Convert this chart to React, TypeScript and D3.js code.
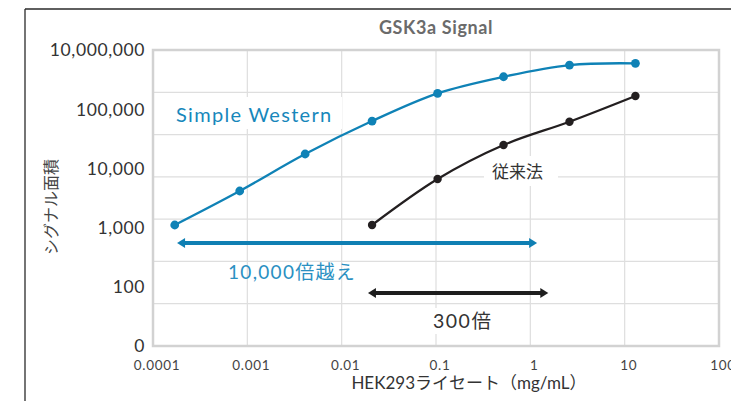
import React from "react";
import * as d3 from "d3";

// ---- data ----
const concSW = [0.00017, 0.00083, 0.0041, 0.021, 0.104, 0.52, 2.6, 13];
const signalSW = [727, 4630, 34700, 209000, 944000, 2330000, 4410000, 4840000];
const concWB = [0.021, 0.104, 0.52, 2.6, 13];
const signalWB = [727, 8890, 56600, 201000, 816000];
const xTickValues = [0.0001, 0.001, 0.01, 0.1, 1, 10, 100];
const xTickLabels = ["0.0001", "0.001", "0.01", "0.1", "1", "10", "100"];
const yGridValues = [1, 10, 100, 1000, 10000, 100000, 1000000, 10000000];
const yTickLabels = ["0", "100", "1,000", "10,000", "100,000", "10,000,000"];
const rangeSW = [0.00018, 1.18];
const rangeSWLevel = 272;
const rangeWB = [0.019, 1.55];
const rangeWBLevel = 17.9;

const W = 731;
const H = 401;
const plot = { left: 153, right: 719, top: 50, bottom: 346 };
const font = "Lato, 'Noto Sans CJK JP', sans-serif";
const blue = "#0f82b6";

export default function App() {
  const x = d3.scaleLog().domain([0.0001, 100]).range([plot.left, plot.right]);
  const y = d3.scaleLog().domain([1, 10000000]).range([plot.bottom, plot.top]);
  const yLab = d3.scalePoint<string>().domain(yTickLabels).range([plot.bottom, plot.top]);

  const line = d3
    .line<[number, number]>()
    .x((d) => x(d[0]))
    .y((d) => y(d[1]))
    .curve(d3.curveCatmullRom.alpha(0.5));

  const sw: [number, number][] = concSW.map((c, i) => [c, signalSW[i]]);
  const wb: [number, number][] = concWB.map((c, i) => [c, signalWB[i]]);

  const arrow = (x1: number, x2: number, yy: number, color: string) => (
    <g>
      <line x1={x1 + 4} x2={x2 - 4} y1={yy} y2={yy} stroke={color} strokeWidth={4} />
      <path d={`M${x1},${yy} L${x1 + 8},${yy - 5} L${x1 + 8},${yy + 5} Z`} fill={color} />
      <path d={`M${x2},${yy} L${x2 - 8},${yy - 5} L${x2 - 8},${yy + 5} Z`} fill={color} />
    </g>
  );

  return (
    <svg
      width={W}
      height={H}
      style={{ position: "absolute", left: 0, top: 0, background: "#fff" }}
      fontFamily={font}
    >
      {/* outer frame */}
      <line x1={25} x2={W} y1={9} y2={9} stroke="#2a2a2a" strokeWidth={1.3} />
      <line x1={25} x2={25} y1={9} y2={H} stroke="#2a2a2a" strokeWidth={1.3} />

      {/* grid */}
      {yGridValues.map((v) => (
        <line key={"gy" + v} x1={plot.left} x2={plot.right} y1={y(v)} y2={y(v)} stroke="#dedede" strokeWidth={1.2} />
      ))}
      {xTickValues.map((v) => (
        <line key={"gx" + v} x1={x(v)} x2={x(v)} y1={plot.top} y2={plot.bottom} stroke="#dedede" strokeWidth={1.2} />
      ))}
      <rect
        x={plot.left}
        y={plot.top}
        width={plot.right - plot.left}
        height={plot.bottom - plot.top}
        fill="none"
        stroke="#d2d2d2"
        strokeWidth={2.5}
      />

      {/* title */}
      <text x={436} y={34} textAnchor="middle" fontSize={18} fontWeight="bold" fill="#6b6b6b" letterSpacing={0.6}>
        GSK3a Signal
      </text>

      {/* y tick labels */}
      {yTickLabels.map((t) => (
        <text key={t} x={145} y={(yLab(t) as number) + 6.3} textAnchor="end" fontSize={17.5} fill="#333" letterSpacing={0.6}>
          {t}
        </text>
      ))}
      {/* x tick labels */}
      {xTickValues.map((v, i) => (
        <text key={"xl" + v} x={x(v) + 4} y={370} textAnchor="middle" fontSize={13.5} fill="#444" letterSpacing={0.7}>
          {xTickLabels[i]}
        </text>
      ))}

      {/* axis titles */}
      <text transform={`translate(57,207) rotate(-90)`} textAnchor="middle" fontSize={16} fill="#444">
        シグナル面積
      </text>
      <text x={469} y={389} textAnchor="middle" fontSize={17} fill="#333">
        HEK293ライセート（mg/mL）
      </text>

      {/* label backgrounds */}
      <rect x={170} y={97} width={172} height={32} fill="#fff" />
      <rect x={484} y={156} width={74} height={30} fill="#fff" />
      <rect x={428} y={308} width={68} height={26} fill="#fff" />

      {/* series */}
      <path d={line(wb) || ""} fill="none" stroke="#231f20" strokeWidth={2.3} />
      {wb.map((d, i) => (
        <circle key={"wb" + i} cx={x(d[0])} cy={y(d[1])} r={4.2} fill="#231f20" />
      ))}
      <path d={line(sw) || ""} fill="none" stroke={blue} strokeWidth={2.3} />
      {sw.map((d, i) => (
        <circle key={"sw" + i} cx={x(d[0])} cy={y(d[1])} r={4.4} fill={blue} />
      ))}

      {/* annotations */}
      <text x={176} y={122} fontSize={20} fill="#1787bb" letterSpacing={1.3}>
        Simple Western
      </text>
      <text x={492} y={178} fontSize={17} fill="#333">
        従来法
      </text>
      {arrow(x(rangeSW[0]), x(rangeSW[1]), y(rangeSWLevel), "#0f7fb3")}
      <text x={228} y={279} fontSize={19} fill="#2a90c2" letterSpacing={1.3}>
        10,000倍越え
      </text>
      {arrow(x(rangeWB[0]), x(rangeWB[1]), y(rangeWBLevel), "#1e1e1e")}
      <text x={433} y={328} fontSize={19.5} fill="#333" letterSpacing={1.5}>
        300倍
      </text>
    </svg>
  );
}
